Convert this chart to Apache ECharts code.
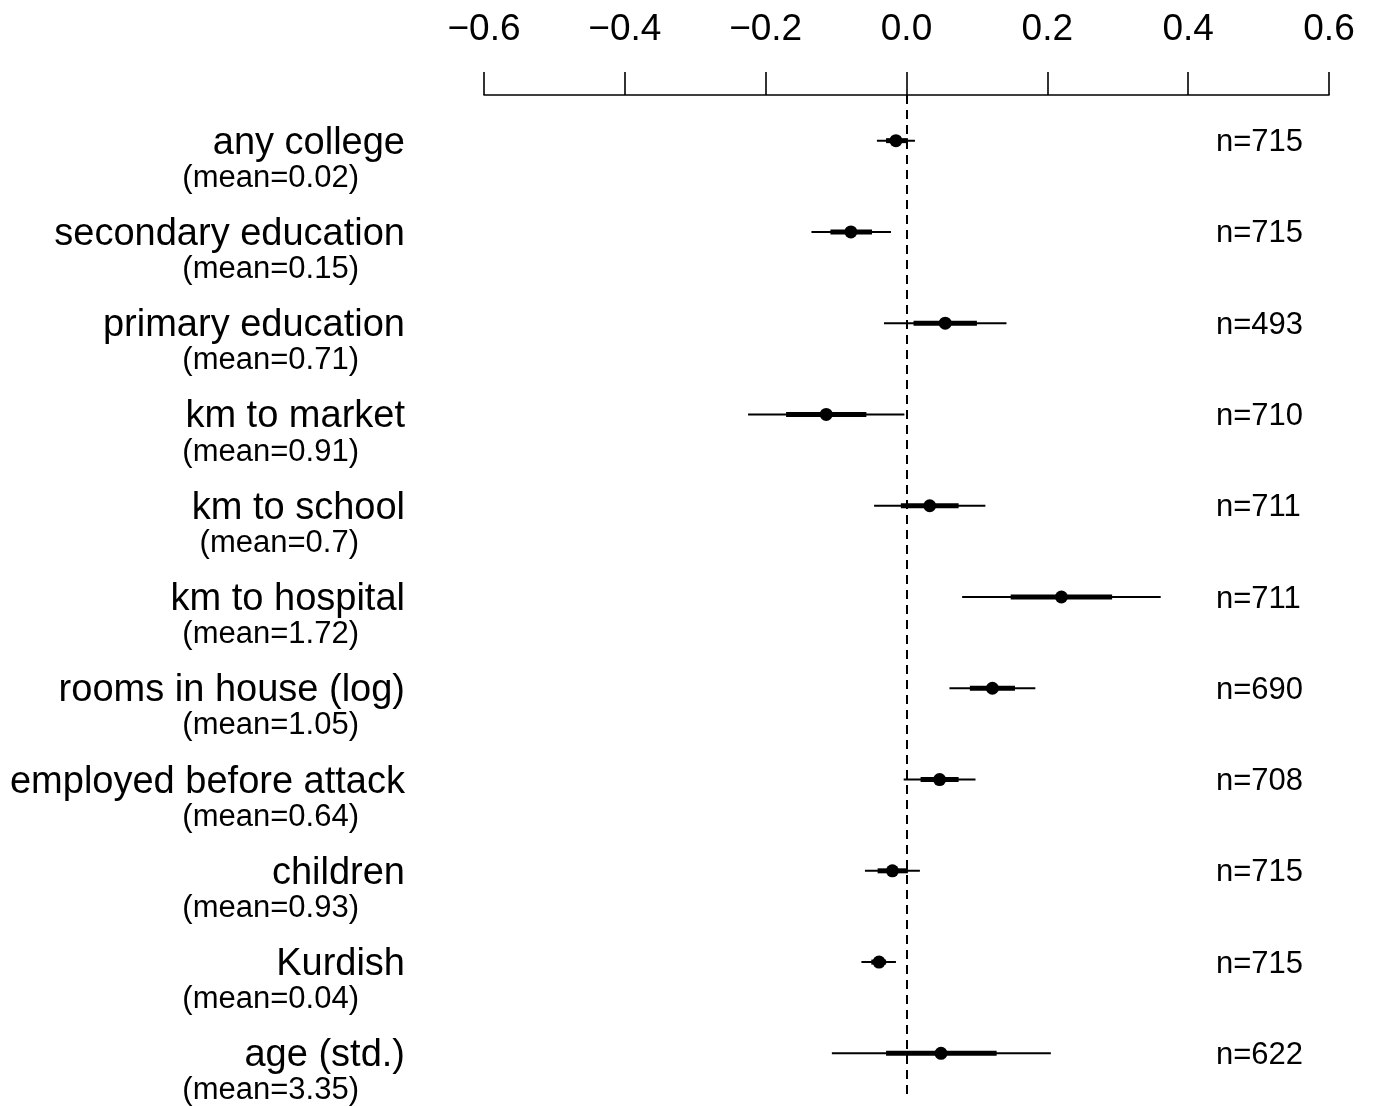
<!DOCTYPE html>
<html>
<head>
<meta charset="utf-8">
<script src="https://cdn.jsdelivr.net/npm/echarts@6/dist/echarts.min.js"></script>
<style>
html,body{margin:0;padding:0;background:#fff;}
#chart{width:1374px;height:1106px;}
</style>
</head>
<body>
<div id="chart"></div>
<script>
var names = ["any college","secondary education","primary education","km to market","km to school","km to hospital","rooms in house (log)","employed before attack","children","Kurdish","age (std.)"];
var means = ["(mean=0.02)","(mean=0.15)","(mean=0.71)","(mean=0.91)","(mean=0.7)","(mean=1.72)","(mean=1.05)","(mean=0.64)","(mean=0.93)","(mean=0.04)","(mean=3.35)"];
var ns = ["n=715","n=715","n=493","n=710","n=711","n=711","n=690","n=708","n=715","n=715","n=622"];
var est   = [-0.015,-0.079, 0.055,-0.114, 0.033, 0.220, 0.122, 0.047,-0.020,-0.039, 0.049];
var outerLo = [-0.042,-0.135,-0.032,-0.225,-0.046, 0.079, 0.061,-0.004,-0.059,-0.064,-0.106];
var outerHi = [ 0.012,-0.022, 0.142,-0.003, 0.112, 0.361, 0.183, 0.098, 0.019,-0.015, 0.205];
var innerLo = [-0.029,-0.108, 0.010,-0.171,-0.008, 0.148, 0.090, 0.020,-0.041,-0.050,-0.029];
var innerHi = [ 0.002,-0.049, 0.100,-0.057, 0.074, 0.292, 0.154, 0.074, 0.002,-0.029, 0.128];
var xTicks = {min:-0.6, max:0.6, interval:0.2};

var FONT = "'Liberation Sans', Arial, Helvetica, sans-serif";
var data = names.map(function(n,i){ return [i, est[i], outerLo[i], outerHi[i], innerLo[i], innerHi[i]]; });

var chart = echarts.init(document.getElementById('chart'));
chart.setOption({
  animation:false,
  backgroundColor:'#ffffff',
  textStyle:{fontFamily:FONT},
  grid:{left:484, right:45, top:95, bottom:7, containLabel:false, outerBoundsMode:'none'},
  xAxis:{
    type:'value', position:'top', min:xTicks.min, max:xTicks.max, interval:xTicks.interval,
    splitLine:{show:false},
    axisLine:{show:true, lineStyle:{color:'#000', width:1.6}},
    axisTick:{show:true, inside:false, length:23, lineStyle:{color:'#000', width:1.6}},
    axisLabel:{
      margin:47, fontSize:37, color:'#000', fontFamily:FONT,
      formatter:function(v){ if(Math.abs(v)<1e-9) return '0.0'; var s=Math.abs(v).toFixed(1); return v<0 ? '\u2212'+s : s; }
    }
  },
  yAxis:[
    {type:'category', inverse:true, data:names, position:'left',
     axisLine:{show:false}, axisTick:{show:false}, splitLine:{show:false},
     axisLabel:{interval:0, margin:79, fontSize:38, color:'#000', fontFamily:FONT, align:'right',
       formatter:function(v){ return ' \n' + v; }, lineHeight:5}},
    {type:'category', inverse:true, data:means, position:'left',
     axisLine:{show:false}, axisTick:{show:false}, splitLine:{show:false},
     axisLabel:{interval:0, margin:125, fontSize:31, color:'#000', fontFamily:FONT, align:'right',
       formatter:function(v){ return ' \n' + v; }, lineHeight:75}},
    {type:'category', inverse:true, data:ns, position:'right',
     axisLine:{show:false}, axisTick:{show:false}, splitLine:{show:false},
     axisLabel:{interval:0, margin:-113, fontSize:31, color:'#000', fontFamily:FONT, align:'left',
       formatter:function(v){ return ' \n' + v; }, lineHeight:4}}
  ],
  series:[{
    type:'custom',
    xAxisIndex:0, yAxisIndex:0,
    data:data,
    encode:{x:[1,2,3,4,5], y:0},
    renderItem:function(params, api){
      var yi = api.value(0);
      var p = api.coord([api.value(1), yi]);
      var o1 = api.coord([api.value(2), yi]);
      var o2 = api.coord([api.value(3), yi]);
      var i1 = api.coord([api.value(4), yi]);
      var i2 = api.coord([api.value(5), yi]);
      return {type:'group', children:[
        {type:'line', shape:{x1:o1[0], y1:o1[1], x2:o2[0], y2:o2[1]}, style:{stroke:'#000', lineWidth:2}},
        {type:'line', shape:{x1:i1[0], y1:i1[1], x2:i2[0], y2:i2[1]}, style:{stroke:'#000', lineWidth:5}},
        {type:'circle', shape:{cx:p[0], cy:p[1], r:6.5}, style:{fill:'#000'}}
      ]};
    },
    markLine:{
      silent:true, symbol:'none', label:{show:false},
      lineStyle:{color:'#000', type:[9,6], width:2},
      data:[{xAxis:0}]
    },
    z:5
  }]
});
</script>
</body>
</html>
